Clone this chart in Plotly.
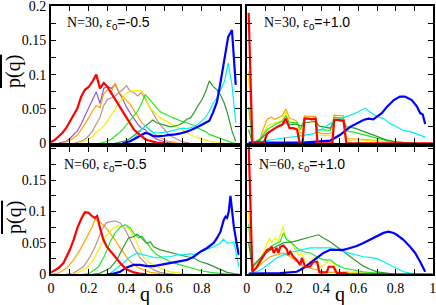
import plotly.graph_objects as go

# ---------------- colours (xmgrace-like) ----------------
C_RED = "#ff0000"
C_PURPLE = "#9955cc"
C_ORANGE = "#ffa500"
C_TAN = "#bc8f8f"
C_YELLOW = "#f5f000"
C_LIME = "#22e822"
C_DGREEN = "#2e9a2e"
C_CYAN = "#00f0f0"
C_BLUE = "#0000ff"

# ---------------- panel 1: N=30, eps0=-0.5 ----------------
tl_red_q = [0.00,0.02,0.04,0.06,0.08,0.10,0.12,0.14,0.16,0.18,0.20,0.22,0.24,0.26,0.28,0.30,0.32,0.34,0.36,0.38,0.40,0.42,0.44,0.46,0.48,0.50,0.52,0.54,0.56,0.60]
tl_red_p = [0.002,0.005,0.010,0.015,0.022,0.032,0.041,0.051,0.068,0.078,0.082,0.090,0.100,0.080,0.088,0.082,0.073,0.064,0.055,0.045,0.036,0.028,0.020,0.015,0.010,0.006,0.004,0.002,0.001,0.000]

tl_purple_q = [0.04,0.06,0.08,0.10,0.12,0.14,0.16,0.18,0.20,0.22,0.24,0.26,0.28,0.30,0.32,0.34,0.36,0.38,0.40,0.42,0.44,0.46,0.48,0.50,0.52,0.54,0.56,0.58,0.60,0.62,0.66]
tl_purple_p = [0.000,0.001,0.003,0.007,0.012,0.018,0.028,0.040,0.050,0.062,0.075,0.058,0.080,0.083,0.080,0.086,0.074,0.065,0.053,0.044,0.036,0.028,0.022,0.020,0.013,0.009,0.006,0.004,0.002,0.001,0.000]

tl_orange_q = [0.06,0.08,0.10,0.12,0.14,0.16,0.18,0.20,0.22,0.24,0.26,0.28,0.30,0.32,0.34,0.36,0.38,0.40,0.42,0.44,0.46,0.48,0.50,0.52,0.54,0.56,0.58,0.60,0.62,0.64,0.68]
tl_orange_p = [0.000,0.002,0.004,0.008,0.012,0.020,0.028,0.037,0.047,0.055,0.052,0.072,0.078,0.075,0.088,0.075,0.068,0.062,0.057,0.048,0.040,0.030,0.025,0.020,0.015,0.011,0.008,0.005,0.003,0.002,0.000]

tl_tan_q = [0.12,0.14,0.16,0.18,0.20,0.22,0.24,0.26,0.28,0.30,0.32,0.34,0.36,0.38,0.40,0.42,0.44,0.46,0.48,0.50,0.52,0.54,0.56,0.58,0.60,0.62,0.64,0.66,0.68,0.70,0.74]
tl_tan_p = [0.000,0.001,0.003,0.006,0.011,0.018,0.027,0.038,0.055,0.064,0.066,0.069,0.074,0.078,0.084,0.076,0.074,0.069,0.074,0.064,0.054,0.044,0.035,0.027,0.020,0.014,0.010,0.007,0.004,0.002,0.000]

tl_yellow_q = [0.14,0.16,0.18,0.20,0.22,0.24,0.26,0.28,0.30,0.32,0.34,0.36,0.38,0.40,0.42,0.44,0.46,0.48,0.50,0.52,0.54,0.56,0.58,0.60,0.62,0.64,0.66,0.68,0.70,0.72,0.74,0.76,0.78,0.80,0.82,0.84,0.86,0.88,0.92]
tl_yellow_p = [0.000,0.001,0.003,0.006,0.010,0.016,0.020,0.025,0.033,0.042,0.050,0.058,0.066,0.073,0.076,0.077,0.077,0.076,0.068,0.053,0.047,0.042,0.037,0.034,0.031,0.028,0.025,0.022,0.018,0.015,0.012,0.010,0.008,0.006,0.004,0.003,0.002,0.001,0.000]

tl_lime_q = [0.26,0.28,0.30,0.32,0.34,0.36,0.38,0.40,0.42,0.44,0.46,0.48,0.50,0.52,0.54,0.56,0.58,0.60,0.62,0.64,0.66,0.68,0.70,0.72,0.74,0.76,0.78,0.80,0.82,0.84,0.86,0.88,0.90,0.92,0.94,0.96,0.98]
tl_lime_p = [0.000,0.001,0.003,0.006,0.010,0.015,0.020,0.027,0.034,0.040,0.047,0.058,0.071,0.065,0.058,0.052,0.046,0.043,0.041,0.038,0.036,0.033,0.031,0.030,0.028,0.026,0.022,0.020,0.017,0.013,0.011,0.009,0.007,0.004,0.002,0.001,0.000]

tl_dgreen_q = [0.34,0.36,0.38,0.40,0.42,0.44,0.46,0.48,0.50,0.52,0.54,0.56,0.58,0.60,0.62,0.64,0.66,0.68,0.70,0.72,0.74,0.76,0.78,0.80,0.82,0.84,0.86,0.88,0.90,0.92,0.94,0.96,0.98]
tl_dgreen_p = [0.000,0.001,0.002,0.004,0.007,0.011,0.016,0.020,0.025,0.030,0.034,0.030,0.028,0.026,0.025,0.024,0.025,0.027,0.030,0.035,0.037,0.045,0.055,0.063,0.075,0.091,0.083,0.078,0.070,0.058,0.040,0.018,0.003]

tl_cyan_q = [0.38,0.40,0.42,0.44,0.46,0.48,0.50,0.52,0.54,0.56,0.58,0.60,0.62,0.64,0.66,0.68,0.70,0.72,0.74,0.76,0.78,0.80,0.82,0.84,0.86,0.88,0.90,0.92,0.94,0.96,0.98]
tl_cyan_p = [0.000,0.001,0.003,0.007,0.014,0.020,0.025,0.020,0.016,0.015,0.015,0.016,0.017,0.018,0.020,0.021,0.022,0.021,0.022,0.024,0.028,0.033,0.038,0.047,0.058,0.066,0.078,0.090,0.117,0.085,0.030]

tl_blue_q = [0.38,0.40,0.42,0.44,0.46,0.48,0.50,0.52,0.54,0.56,0.58,0.60,0.62,0.64,0.66,0.68,0.70,0.72,0.74,0.76,0.78,0.80,0.82,0.84,0.86,0.88,0.90,0.92,0.94,0.96,0.98]
tl_blue_p = [0.000,0.001,0.003,0.006,0.009,0.012,0.015,0.014,0.011,0.010,0.010,0.011,0.012,0.012,0.013,0.014,0.015,0.017,0.019,0.021,0.024,0.027,0.030,0.033,0.045,0.060,0.090,0.120,0.155,0.165,0.085]

# ---------------- panel 2: N=30, eps0=+1.0 ----------------
tr_red_q = [0.01,0.03,0.09,0.11,0.13,0.15,0.17,0.19,0.21,0.23,0.25,0.27,0.285,0.30,0.31,0.33,0.35,0.37,0.38,0.46,0.47,0.49,0.51,0.52,0.535,1.00]
tr_red_p = [0.190,0.000,0.000,0.014,0.018,0.022,0.025,0.027,0.036,0.022,0.022,0.020,0.000,0.000,0.036,0.036,0.035,0.036,0.000,0.000,0.034,0.034,0.034,0.033,0.000,0.000]

tr_orange_q = [0.01,0.03,0.07,0.09,0.11,0.13,0.15,0.17,0.19,0.21,0.23,0.25,0.27,0.285,0.30,0.31,0.33,0.35,0.37,0.38,0.41,0.44,0.46,0.47,0.49,0.51,0.52,0.535,0.60,0.66,0.72,0.80,0.90]
tr_orange_p = [0.105,0.000,0.005,0.022,0.035,0.038,0.035,0.038,0.040,0.050,0.036,0.035,0.032,0.016,0.014,0.040,0.040,0.039,0.039,0.016,0.014,0.014,0.016,0.041,0.041,0.041,0.040,0.007,0.006,0.005,0.003,0.001,0.000]

tr_yellow_q = [0.01,0.03,0.07,0.09,0.11,0.13,0.15,0.17,0.19,0.21,0.23,0.25,0.27,0.285,0.30,0.31,0.33,0.35,0.37,0.38,0.46,0.47,0.51,0.52,0.535,0.60,0.70,0.80,0.90]
tr_yellow_p = [0.100,0.000,0.003,0.015,0.025,0.028,0.030,0.032,0.033,0.046,0.030,0.030,0.028,0.010,0.009,0.036,0.036,0.035,0.034,0.012,0.011,0.037,0.037,0.036,0.005,0.005,0.003,0.001,0.000]

tr_lime_q = [0.01,0.03,0.07,0.11,0.15,0.19,0.21,0.23,0.25,0.27,0.29,0.31,0.37,0.38,0.45,0.47,0.52,0.535,0.58,0.62,0.66,0.70,0.75,0.80,0.90]
tr_lime_p = [0.053,0.000,0.006,0.020,0.027,0.032,0.040,0.030,0.030,0.030,0.020,0.037,0.035,0.020,0.019,0.038,0.036,0.018,0.016,0.013,0.010,0.007,0.004,0.002,0.000]

tr_dgreen_q = [0.01,0.03,0.07,0.11,0.15,0.19,0.21,0.23,0.27,0.29,0.31,0.37,0.39,0.45,0.47,0.52,0.535,0.58,0.62,0.66,0.70,0.75,0.80,0.90]
tr_dgreen_p = [0.020,0.000,0.005,0.015,0.022,0.027,0.030,0.027,0.028,0.025,0.030,0.032,0.025,0.022,0.034,0.032,0.024,0.022,0.018,0.014,0.010,0.005,0.002,0.000]

tr_cyan_q = [0.03,0.10,0.18,0.27,0.36,0.41,0.45,0.50,0.56,0.60,0.636,0.66,0.70,0.735,0.77,0.806,0.84,0.88,0.91,0.96]
tr_cyan_p = [0.001,0.004,0.007,0.010,0.014,0.022,0.029,0.036,0.041,0.046,0.051,0.046,0.039,0.036,0.029,0.024,0.019,0.017,0.014,0.009]

tr_blue_q = [0.01,0.30,0.45,0.50,0.556,0.60,0.627,0.654,0.68,0.70,0.726,0.753,0.79,0.824,0.85,0.887,0.914,0.932,0.946,0.959]
tr_blue_p = [0.001,0.001,0.004,0.012,0.024,0.030,0.034,0.036,0.035,0.039,0.044,0.053,0.063,0.068,0.068,0.063,0.054,0.044,0.042,0.028]

# ---------------- panel 3: N=60, eps0=-0.5 ----------------
bl_red_q = [0.00,0.04,0.066,0.083,0.10,0.12,0.14,0.163,0.18,0.20,0.216,0.234,0.245,0.26,0.278,0.296,0.323,0.35,0.376,0.40,0.44,0.47,0.51]
bl_red_p = [0.003,0.010,0.018,0.028,0.039,0.055,0.074,0.090,0.099,0.098,0.093,0.090,0.093,0.074,0.055,0.044,0.034,0.023,0.015,0.008,0.003,0.001,0.000]

bl_orange_q = [0.00,0.04,0.083,0.12,0.154,0.19,0.216,0.234,0.26,0.287,0.314,0.34,0.367,0.394,0.42,0.456,0.49,0.527,0.58,0.64]
bl_orange_p = [0.000,0.002,0.010,0.023,0.039,0.058,0.074,0.088,0.083,0.076,0.066,0.055,0.042,0.031,0.020,0.012,0.007,0.003,0.001,0.000]

bl_tan_q = [0.08,0.12,0.172,0.207,0.234,0.252,0.27,0.293,0.314,0.34,0.367,0.394,0.42,0.447,0.473,0.51,0.544,0.58,0.62,0.66]
bl_tan_p = [0.000,0.002,0.012,0.028,0.044,0.058,0.071,0.082,0.084,0.085,0.082,0.071,0.055,0.039,0.026,0.015,0.007,0.003,0.001,0.000]

bl_yellow_q = [0.10,0.137,0.19,0.225,0.26,0.296,0.332,0.358,0.385,0.411,0.438,0.465,0.49,0.527,0.562,0.60,0.633,0.686,0.75]
bl_yellow_p = [0.000,0.002,0.010,0.023,0.044,0.063,0.074,0.078,0.075,0.074,0.061,0.044,0.028,0.018,0.012,0.007,0.004,0.002,0.000]

bl_lime_q = [0.17,0.207,0.252,0.287,0.314,0.34,0.367,0.394,0.42,0.438,0.465,0.482,0.509,0.535,0.562,0.598,0.633,0.686,0.739,0.793,0.846,0.90,0.95]
bl_lime_p = [0.000,0.002,0.012,0.031,0.052,0.066,0.075,0.079,0.074,0.066,0.058,0.061,0.050,0.039,0.031,0.026,0.020,0.015,0.010,0.006,0.003,0.001,0.000]

bl_dgreen_q = [0.22,0.261,0.314,0.349,0.385,0.411,0.438,0.456,0.473,0.491,0.509,0.527,0.544,0.58,0.615,0.65,0.686,0.722,0.757,0.793,0.828,0.863,0.90,0.934,0.97,1.00]
bl_dgreen_p = [0.000,0.002,0.010,0.023,0.044,0.058,0.060,0.064,0.060,0.055,0.049,0.052,0.044,0.039,0.036,0.034,0.031,0.028,0.026,0.020,0.017,0.012,0.007,0.003,0.001,0.000]

bl_cyan_q = [0.28,0.314,0.349,0.385,0.411,0.438,0.456,0.491,0.527,0.562,0.598,0.633,0.668,0.704,0.74,0.757,0.793,0.828,0.863,0.899,0.915,0.934,0.952,0.97,0.988,0.996]
bl_cyan_p = [0.000,0.001,0.010,0.018,0.026,0.031,0.034,0.031,0.028,0.026,0.028,0.028,0.031,0.031,0.033,0.031,0.036,0.040,0.044,0.050,0.056,0.050,0.050,0.052,0.028,0.012]

bl_blue_q = [0.30,0.332,0.367,0.402,0.438,0.473,0.509,0.544,0.58,0.615,0.65,0.686,0.722,0.757,0.793,0.828,0.863,0.881,0.899,0.917,0.926,0.934,0.943,0.952,0.97,0.988,0.996]
bl_blue_p = [0.000,0.001,0.004,0.011,0.015,0.015,0.013,0.013,0.015,0.017,0.019,0.020,0.023,0.028,0.036,0.042,0.050,0.058,0.068,0.087,0.092,0.090,0.100,0.125,0.076,0.044,0.031]

# ---------------- panel 4: N=60, eps0=+1.0 ----------------
br_red_q = [0.01,0.03,0.05,0.07,0.09,0.11,0.125,0.134,0.145,0.16,0.17,0.18,0.197,0.215,0.224,0.233,0.25,0.268,0.287,0.296,0.314,0.34,0.358,0.378,0.39,0.43,0.44,0.466,0.484,0.53,0.55,1.00]
br_red_p = [0.210,0.004,0.010,0.020,0.031,0.039,0.040,0.044,0.034,0.042,0.034,0.044,0.046,0.040,0.031,0.036,0.028,0.023,0.015,0.026,0.012,0.012,0.020,0.020,0.003,0.003,0.012,0.012,0.002,0.002,0.000,0.000]

br_orange_q = [0.01,0.03,0.07,0.125,0.16,0.197,0.233,0.27,0.305,0.34,0.376,0.412,0.448,0.52,0.63,0.75]
br_orange_p = [0.210,0.003,0.015,0.028,0.031,0.034,0.028,0.020,0.012,0.010,0.007,0.004,0.003,0.004,0.002,0.000]

br_yellow_q = [0.01,0.03,0.05,0.09,0.122,0.134,0.152,0.17,0.194,0.206,0.224,0.242,0.26,0.278,0.296,0.314,0.34,0.358,0.376,0.39,0.44,0.466,0.484,0.55,0.65,0.75]
br_yellow_p = [0.100,0.003,0.010,0.035,0.058,0.050,0.058,0.053,0.076,0.061,0.055,0.050,0.039,0.031,0.034,0.020,0.020,0.026,0.028,0.010,0.020,0.020,0.004,0.003,0.001,0.000]

br_lime_q = [0.01,0.03,0.036,0.072,0.108,0.143,0.179,0.197,0.215,0.242,0.269,0.305,0.34,0.376,0.412,0.448,0.484,0.52,0.573,0.627,0.70,0.80]
br_lime_p = [0.080,0.005,0.012,0.026,0.039,0.047,0.052,0.066,0.055,0.050,0.042,0.036,0.034,0.028,0.023,0.023,0.015,0.010,0.007,0.004,0.002,0.000]

br_dgreen_q = [0.01,0.03,0.036,0.09,0.143,0.197,0.251,0.287,0.323,0.358,0.385,0.412,0.448,0.484,0.52,0.556,0.591,0.627,0.663,0.70,0.753,0.80]
br_dgreen_p = [0.050,0.008,0.015,0.031,0.042,0.050,0.052,0.055,0.058,0.061,0.063,0.058,0.052,0.044,0.036,0.028,0.020,0.013,0.008,0.004,0.002,0.000]

br_cyan_q = [0.018,0.054,0.09,0.125,0.161,0.197,0.233,0.269,0.305,0.34,0.376,0.412,0.448,0.484,0.52,0.556,0.591,0.627,0.663,0.699,0.735,0.771,0.806,0.842,0.878,0.914]
br_cyan_p = [0.002,0.004,0.010,0.018,0.026,0.031,0.035,0.037,0.040,0.042,0.042,0.042,0.042,0.039,0.036,0.034,0.031,0.028,0.027,0.025,0.020,0.015,0.010,0.004,0.002,0.001]

br_blue_q = [0.01,0.179,0.269,0.305,0.34,0.376,0.412,0.448,0.484,0.52,0.556,0.591,0.627,0.663,0.699,0.735,0.762,0.789,0.806,0.842,0.878,0.905,0.932,0.959]
br_blue_p = [0.001,0.002,0.004,0.010,0.018,0.026,0.034,0.039,0.039,0.039,0.042,0.045,0.050,0.055,0.060,0.066,0.068,0.066,0.063,0.055,0.044,0.034,0.020,0.004]

# ---------------- labels / ticks ----------------
panel_labels = [
    ("N=30, ε", "-0.5"),
    ("N=30, ε", "+1.0"),
    ("N=60, ε", "-0.5"),
    ("N=60, ε", "+1.0"),
]
x_major_left = [0.0, 0.2, 0.4, 0.6, 0.8]
x_text_left = ["0", "0.2", "0.4", "0.6", "0.8"]
x_major_right = [0.0, 0.2, 0.4, 0.6, 0.8, 1.0]
x_text_right = ["0", "0.2", "0.4", "0.6", "0.8", "1"]
x_minor = [0.1, 0.3, 0.5, 0.7, 0.9, 1.0]
y_major_top = [0.0, 0.05, 0.1, 0.15, 0.2]
y_text_top = ["0", "0.05", "0.1", "0.15", "0.2"]
y_major_bot = [0.0, 0.05, 0.1, 0.15]
y_text_bot = ["0", "0.05", "0.1", "0.15"]
y_minor = [0.025, 0.075, 0.125, 0.175, 0.2]

THIN, THICK = 1.2, 2.2
panels = [
    ("x", "y", [
        (tl_purple_q, tl_purple_p, C_PURPLE, THIN), (tl_orange_q, tl_orange_p, C_ORANGE, THIN),
        (tl_tan_q, tl_tan_p, C_TAN, THIN), (tl_yellow_q, tl_yellow_p, C_YELLOW, THIN),
        (tl_lime_q, tl_lime_p, C_LIME, THIN), (tl_dgreen_q, tl_dgreen_p, C_DGREEN, THIN),
        (tl_cyan_q, tl_cyan_p, C_CYAN, THIN), (tl_blue_q, tl_blue_p, C_BLUE, THICK),
        (tl_red_q, tl_red_p, C_RED, THICK)]),
    ("x2", "y2", [
        (tr_orange_q, tr_orange_p, C_ORANGE, THIN), (tr_yellow_q, tr_yellow_p, C_YELLOW, THIN),
        (tr_lime_q, tr_lime_p, C_LIME, THIN), (tr_dgreen_q, tr_dgreen_p, C_DGREEN, THIN),
        (tr_cyan_q, tr_cyan_p, C_CYAN, THIN), (tr_blue_q, tr_blue_p, C_BLUE, THICK),
        (tr_red_q, tr_red_p, C_RED, THICK)]),
    ("x3", "y3", [
        (bl_orange_q, bl_orange_p, C_ORANGE, THIN), (bl_tan_q, bl_tan_p, C_TAN, THIN),
        (bl_yellow_q, bl_yellow_p, C_YELLOW, THIN), (bl_lime_q, bl_lime_p, C_LIME, THIN),
        (bl_dgreen_q, bl_dgreen_p, C_DGREEN, THIN), (bl_cyan_q, bl_cyan_p, C_CYAN, THIN),
        (bl_blue_q, bl_blue_p, C_BLUE, THICK), (bl_red_q, bl_red_p, C_RED, THICK)]),
    ("x4", "y4", [
        (br_orange_q, br_orange_p, C_ORANGE, THIN), (br_yellow_q, br_yellow_p, C_YELLOW, THIN),
        (br_lime_q, br_lime_p, C_LIME, THIN), (br_dgreen_q, br_dgreen_p, C_DGREEN, THIN),
        (br_cyan_q, br_cyan_p, C_CYAN, THIN), (br_blue_q, br_blue_p, C_BLUE, THICK),
        (br_red_q, br_red_p, C_RED, THICK)]),
]

fig = go.Figure()
for xa, ya, series in panels:
    for q, p, col, w in series:
        assert len(q) == len(p), (xa, col, len(q), len(p))
        fig.add_trace(go.Scatter(x=q, y=p, mode="lines", xaxis=xa, yaxis=ya,
                                 line=dict(color=col, width=w), showlegend=False,
                                 hoverinfo="skip"))

W, H = 436, 305
def px(v):
    return v / W
def py(v):
    return 1 - v / H

tickfont = dict(family="Liberation Serif", size=14, color="black")
def axis_style(minor_vals, **kw):
    d = dict(showline=True, linewidth=2, linecolor="black", mirror="allticks",
             ticks="inside", ticklen=5, tickwidth=1, tickcolor="black",
             showgrid=False, zeroline=False, tickfont=tickfont, fixedrange=True,
             automargin=False, ticklabeloverflow="allow", tickmode="array",
             minor=dict(tickmode="array", tickvals=minor_vals, ticks="inside",
                        ticklen=5, tickwidth=1, tickcolor="black", showgrid=False))
    d.update(kw)
    return d

xl = [px(51), px(239.5)]
xr = [px(246.8), px(432.8)]
yt = [py(143.3), py(6)]
yb = [py(274.3), py(147)]

fig.update_layout(
    width=W, height=H, margin=dict(l=0, r=0, t=0, b=0, pad=0),
    paper_bgcolor="white", plot_bgcolor="white",
    xaxis=axis_style(x_minor, domain=xl, range=[0, 1], anchor="y",
                     tickvals=x_major_left, showticklabels=False),
    yaxis=axis_style(y_minor, domain=yt, range=[0, 0.2], anchor="x",
                     tickvals=y_major_top, ticktext=y_text_top),
    xaxis2=axis_style(x_minor, domain=xr, range=[0, 1], anchor="y2",
                      tickvals=x_major_left, showticklabels=False),
    yaxis2=axis_style(y_minor, domain=yt, range=[0, 0.2], anchor="x2",
                      tickvals=y_major_top, showticklabels=False),
    xaxis3=axis_style(x_minor, domain=xl, range=[0, 1], anchor="y3",
                      tickvals=x_major_left, ticktext=x_text_left),
    yaxis3=axis_style(y_minor, domain=yb, range=[0, 0.203], anchor="x3",
                      tickvals=y_major_bot, ticktext=y_text_bot),
    xaxis4=axis_style(x_minor, domain=xr, range=[0, 1], anchor="y4",
                      tickvals=x_major_right, ticktext=x_text_right),
    yaxis4=axis_style(y_minor, domain=yb, range=[0, 0.203], anchor="x4",
                      tickvals=y_major_bot, showticklabels=False),
)

# panel labels
label_pos = [(65, 23), (262, 23), (62, 165), (257, 165)]
for (pre, val), (lx, ly) in zip(panel_labels, label_pos):
    fig.add_annotation(
        text=f'<span style="font-family:Liberation Serif">{pre}</span><sub>0</sub>={val}',
        xref="paper", yref="paper", x=px(lx), y=py(ly), xanchor="left", yanchor="middle",
        showarrow=False, font=dict(family="Liberation Sans", size=14, color="black"))

# y-axis titles (overlined p(q))
for cy in (72, 218):
    fig.add_annotation(
        text='<span style="text-decoration:overline">p(q)</span>',
        xref="paper", yref="paper", x=px(14), y=py(cy), xanchor="center", yanchor="middle",
        textangle=-90, showarrow=False,
        font=dict(family="Liberation Serif", size=20, color="black"))

# x-axis titles
for cx in (145, 340):
    fig.add_annotation(
        text="q", xref="paper", yref="paper", x=px(cx), y=py(294),
        xanchor="center", yanchor="middle", showarrow=False,
        font=dict(family="Liberation Serif", size=20, color="black"))

fig.write_html("out.html", config={"displayModeBar": False},
               post_script="document.body.style.margin='0';document.body.style.padding='0';")
